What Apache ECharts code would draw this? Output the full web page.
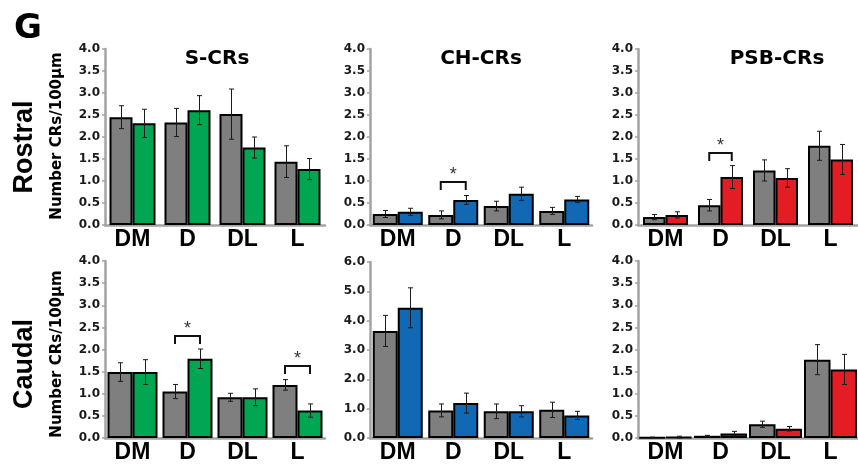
<!DOCTYPE html>
<html>
<head>
<meta charset="utf-8">
<script src="https://cdn.jsdelivr.net/npm/echarts@6/dist/echarts.min.js"></script>
<style>
html, body { margin: 0; padding: 0; background: #fff; }
#main { width: 858px; height: 464px; }
</style>
</head>
<body>
<div id="main"></div>
<script>
var categories = ['DM', 'D', 'DL', 'L'];

// Rostral row (gray = first group, coloured = second group)
var sRostral = [2.45, 2.33, 2.52, 1.44];
var sRostralErr = [0.26, 0.32, 0.57, 0.36];
var sRostral2 = [2.31, 2.61, 1.76, 1.27];
var sRostral2Err = [0.32, 0.33, 0.24, 0.24];

var chRostral = [0.25, 0.23, 0.43, 0.32];
var chRostralErr = [0.08, 0.09, 0.11, 0.08];
var chRostral2 = [0.30, 0.57, 0.71, 0.58];
var chRostral2Err = [0.08, 0.10, 0.15, 0.07];

var psbRostral = [0.18, 0.45, 1.24, 1.80];
var psbRostralErr = [0.06, 0.13, 0.24, 0.33];
var psbRostral2 = [0.23, 1.09, 1.07, 1.49];
var psbRostral2Err = [0.07, 0.26, 0.21, 0.34];

// Caudal row
var sCaudal = [1.49, 1.05, 0.92, 1.20];
var sCaudalErr = [0.21, 0.16, 0.09, 0.12];
var sCaudal2 = [1.49, 1.79, 0.92, 0.62];
var sCaudal2Err = [0.28, 0.22, 0.19, 0.15];

var chCaudal = [3.65, 0.94, 0.91, 0.96];
var chCaudalErr = [0.53, 0.22, 0.25, 0.26];
var chCaudal2 = [4.44, 1.19, 0.91, 0.77];
var chCaudal2Err = [0.68, 0.34, 0.19, 0.14];

var psbCaudal = [0.01, 0.05, 0.31, 1.77];
var psbCaudalErr = [0.01, 0.01, 0.07, 0.34];
var psbCaudal2 = [0.02, 0.10, 0.21, 1.55];
var psbCaudal2Err = [0.02, 0.05, 0.05, 0.34];

// significance brackets: [category index, bracket height]
var chRostralSig = [[1, 0.98]];
var psbRostralSig = [[1, 1.63]];
var sCaudalSig = [[1, 2.31], [3, 1.62]];

var panelTitles = ['S-CRs', 'CH-CRs', 'PSB-CRs'];
var rowNames = ['Rostral', 'Caudal'];

var GRAY = '#7f7f7f', GREEN = '#00a651', BLUE = '#1168b4', RED = '#e41d24';
var AXIS = '#a3a3a3';
var BOLD = '"DejaVu Sans", sans-serif';
var ARIAL = '"Liberation Sans", Arial, sans-serif';

var panels = [
	{ left: 105, top: 49, width: 220, height: 176, bw: 23, color: GREEN, max: 4, step: 0.5,
		a: sRostral, ae: sRostralErr, b: sRostral2, be: sRostral2Err, sig: [] },
	{ left: 370, top: 49, width: 222, height: 176, bw: 25, color: BLUE, max: 4, step: 0.5,
		a: chRostral, ae: chRostralErr, b: chRostral2, be: chRostral2Err, sig: chRostralSig },
	{ left: 638, top: 49, width: 222, height: 176, bw: 22.5, color: RED, max: 4, step: 0.5,
		a: psbRostral, ae: psbRostralErr, b: psbRostral2, be: psbRostral2Err, sig: psbRostralSig },
	{ left: 105, top: 261, width: 220, height: 178, bw: 25, color: GREEN, max: 4, step: 0.5,
		a: sCaudal, ae: sCaudalErr, b: sCaudal2, be: sCaudal2Err, sig: sCaudalSig },
	{ left: 370, top: 262, width: 222, height: 176, bw: 25, color: BLUE, max: 6, step: 1,
		a: chCaudal, ae: chCaudalErr, b: chCaudal2, be: chCaudal2Err, sig: [] },
	{ left: 638, top: 261, width: 222, height: 178, bw: 26.5, color: RED, max: 4, step: 0.5,
		a: psbCaudal, ae: psbCaudalErr, b: psbCaudal2, be: psbCaudal2Err, sig: [] }
];

/**
 * error bars drawn over a bar, side = -1 (left bar) or 1 (right bar)
 */
function errorSeries(idx, means, errs, side, bw) {
	return {
		type: 'custom',
		xAxisIndex: idx,
		yAxisIndex: idx,
		z: 10,
		silent: true,
		data: means.map(function (m, i) { return [i, m, errs[i]]; }),
		renderItem: function (params, api) {
			var i = api.value(0), m = api.value(1), e = api.value(2);
			var hi = api.coord([i, m + e]);
			var lo = api.coord([i, Math.max(0, m - e)]);
			var x = Math.round(hi[0] + side * bw / 2) + 0.5;
			var st = { stroke: '#1a1a1a', lineWidth: 1 };
			return {
				type: 'group',
				children: [
					{ type: 'line', shape: { x1: x, y1: hi[1], x2: x, y2: lo[1] }, style: st },
					{ type: 'line', shape: { x1: x - 2.5, y1: hi[1], x2: x + 2.5, y2: hi[1] }, style: st },
					{ type: 'line', shape: { x1: x - 2.5, y1: lo[1], x2: x + 2.5, y2: lo[1] }, style: st }
				]
			};
		}
	};
}

/**
 * significance bracket with an asterisk
 */
function sigSeries(idx, sig, bw) {
	return {
		type: 'custom',
		xAxisIndex: idx,
		yAxisIndex: idx,
		z: 11,
		silent: true,
		data: sig,
		renderItem: function (params, api) {
			var p = api.coord([api.value(0), api.value(1)]);
			var x1 = p[0] - bw / 2, x2 = p[0] + bw / 2, y = Math.round(p[1]);
			return {
				type: 'group',
				children: [
					{ type: 'polyline', shape: { points: [[x1, y + 8], [x1, y], [x2, y], [x2, y + 8]] },
						style: { stroke: '#111', lineWidth: 2, fill: null } },
					{ type: 'text', style: { text: '*', x: p[0], y: y - 7, align: 'center', verticalAlign: 'middle',
						font: '18px ' + ARIAL, fill: '#333' } }
				]
			};
		}
	};
}

function showChart() {
	var myChart = echarts.init(document.getElementById('main'));
	var grid = [], xAxis = [], yAxis = [], series = [];

	panels.forEach(function (p, idx) {
		grid.push({ left: p.left, top: p.top, width: p.width, height: p.height });
		xAxis.push({
			type: 'category',
			gridIndex: idx,
			data: categories,
			axisLine: { lineStyle: { color: AXIS, width: 2.5 } },
			axisTick: { length: 3, lineStyle: { color: AXIS, width: 1.5 } },
			axisLabel: { interval: 0, margin: 3, color: '#000', fontSize: 23, fontWeight: 'bold', fontFamily: ARIAL }
		});
		yAxis.push({
			type: 'value',
			gridIndex: idx,
			min: 0,
			max: p.max,
			interval: p.step,
			splitLine: { show: false },
			axisLine: { show: true, lineStyle: { color: AXIS, width: 2.5 } },
			axisTick: { show: true, length: 3, lineStyle: { color: AXIS, width: 1.5 } },
			axisLabel: {
				margin: 5, color: '#1a1a1a', fontSize: 12, fontWeight: 'bold', fontFamily: BOLD,
				formatter: function (v) { return v.toFixed(1); }
			}
		});
		var bar = { type: 'bar', xAxisIndex: idx, yAxisIndex: idx, barWidth: p.bw, barGap: '0%', silent: true };
		series.push(Object.assign({}, bar, {
			data: p.a, itemStyle: { color: GRAY, borderColor: '#000', borderWidth: 2 }
		}));
		series.push(Object.assign({}, bar, {
			data: p.b, itemStyle: { color: p.color, borderColor: '#000', borderWidth: 2 }
		}));
		series.push(errorSeries(idx, p.a, p.ae, -1, p.bw));
		series.push(errorSeries(idx, p.b, p.be, 1, p.bw));
		if (p.sig.length) series.push(sigSeries(idx, p.sig, p.bw));
	});

	// panel titles, row names, y axis names, panel letter
	var titleX = [217, 481, 777];
	var graphic = [
		{ type: 'text', left: 14, top: 12, style: { text: 'G', font: 'bold 34px ' + BOLD, fill: '#000' } }
	];
	panelTitles.forEach(function (t, i) {
		graphic.push({ type: 'text', x: titleX[i], y: 59, style: { text: t, font: 'bold 20px ' + BOLD,
			fill: '#000', align: 'center', verticalAlign: 'middle' } });
	});
	var rowY = [147, 364], nameY = [136, 354];
	rowNames.forEach(function (t, i) {
		graphic.push({ type: 'text', x: 25, y: rowY[i], rotation: Math.PI / 2, style: { text: t,
			font: 'bold 27px ' + ARIAL, fill: '#000', align: 'center', verticalAlign: 'middle' } });
		graphic.push({ type: 'text', x: 57, y: nameY[i], rotation: Math.PI / 2, style: { text: 'Number CRs/100\u03bcm',
			font: 'bold 15px ' + BOLD, fill: '#000', align: 'center', verticalAlign: 'middle' } });
	});

	var option = {
		animation: false,
		backgroundColor: '#fff',
		grid: grid,
		xAxis: xAxis,
		yAxis: yAxis,
		series: series,
		graphic: graphic
	};
	myChart.setOption(option);
}

showChart();
</script>
</body>
</html>
